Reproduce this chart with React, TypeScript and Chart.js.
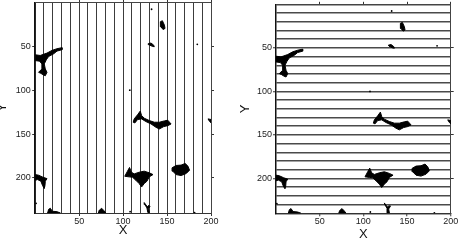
import React, { useEffect, useRef } from "react";
import { Chart, registerables } from "chart.js";

Chart.register(...registerables);

// ---- axis ranges & tick labels ----
const xRange = [0, 200];
const yRange = [0, 240];
const gridStep = 10;
const labelStep = 50;
const tickLabels = [50, 100, 150, 200];

// ---- black features (polygons in data coordinates [x, y]) ----
const blobTopLeft: [number, number][] = [
  [0, 59.6], [5.7, 60.4], [13.4, 57.7], [19.1, 54.6], [24.8, 52.7], [30.5, 51.5],
  [30.5, 53.8], [24.8, 55.4], [21, 58.5], [15.3, 61.5], [12.6, 65.4], [10.3, 70],
  [11.5, 75.8], [13.4, 79.6], [11.5, 83.5], [8.8, 82.3], [6.5, 80.8], [3.8, 79.6],
  [7.6, 75.8], [7.6, 70], [5, 66.9], [0, 66.2],
];
const blobTopRight: [number, number][] = [
  [142.4, 21.9], [144.7, 20.8], [147, 25.8], [147.7, 29.6], [145.4, 30.8], [143.1, 27.7],
];
const blobStreak: [number, number][] = [
  [128.6, 46.9], [131.7, 46.2], [134.7, 48.5], [135.5, 50.4], [133.2, 50], [129.4, 48.1],
];
const blobMiddle: [number, number][] = [
  [112.6, 132.7], [116.4, 128.1], [119.5, 123.8], [121, 128.8], [124, 131.9], [129.8, 134.6],
  [135.5, 136.5], [141.2, 136.5], [146.9, 135], [150.8, 134.2], [154.6, 138.5], [150.8, 140.4],
  [146.2, 141.5], [141.2, 144.2], [137.4, 142.3], [131.7, 138.4], [126, 135.8], [121, 132.7],
  [116.4, 133.5], [113.4, 137.3], [111.5, 136.5],
];
const blobLower: [number, number][] = [
  [101.9, 198.1], [105, 192.3], [107.3, 188.1], [109.5, 193.5], [112.6, 195.4], [118.3, 193.5],
  [124, 192.3], [129.8, 194.2], [134, 196.2], [129.8, 198.8], [127.1, 203.8], [124, 206.5],
  [121, 210.4], [118.3, 206.5], [114.5, 202.7], [110.7, 199.2], [106.9, 198.8],
];
const blobOval: [number, number][] = [
  [155.7, 188.5], [160.3, 185.8], [166, 185.4], [170.6, 183.5], [173.7, 186.5],
  [175.6, 191.2], [171.8, 195], [166, 197.3], [160.3, 196.2], [156.5, 192.3],
];
const blobLeftEdge: [number, number][] = [
  [0, 196.2], [3.8, 196.9], [8.8, 199.2], [13.4, 200.8], [11.5, 203.8], [11.1, 208.8],
  [10.3, 211.9], [8.4, 208.8], [6.5, 203.8], [2.7, 201.9], [0, 202.7],
];
const blobBottomA: [number, number][] = [
  [14.1, 240], [15.3, 235.8], [17.2, 234.6], [19.5, 238], [24.8, 238.5], [28.6, 240],
];
const blobBottomB: [number, number][] = [
  [71.8, 240], [72.9, 236.9], [75.6, 234.6], [78.2, 237.3], [80.2, 240],
];
const blobFork: [number, number][] = [
  [124, 228.1], [126.3, 231.2], [127.9, 232.7], [129.4, 231.2], [130.5, 232.7], [129, 235],
  [129.8, 239.6], [128.2, 239.6], [127.1, 234.2], [124.8, 230.4],
];
const blobRightEdge: [number, number][] = [
  [196.6, 132.7], [200.4, 133.5], [200.4, 137.3], [198.5, 135.8],
];
const specks: [number, number][] = [
  [132.4, 7.7], [184.4, 47.7], [107.6, 100], [108, 238.5], [181.3, 239.5], [1, 229],
];

const blobs = [
  blobTopLeft, blobTopRight, blobStreak, blobMiddle, blobLower, blobOval,
  blobLeftEdge, blobBottomA, blobBottomB, blobFork, blobRightEdge,
];

const FONT = "'Liberation Sans', Arial, sans-serif";

function makeDatasets() {
  const ds: any[] = blobs.map((poly) => ({
    data: [...poly, poly[0]].map(([x, y]) => ({ x, y })),
    showLine: true,
    fill: "shape",
    backgroundColor: "#000",
    borderColor: "#000",
    borderWidth: 1,
    pointRadius: 0,
    tension: 0,
  }));
  ds.push({
    data: specks.map(([x, y]) => ({ x, y })),
    showLine: false,
    pointRadius: 0.9,
    backgroundColor: "#000",
    borderWidth: 0,
  });
  return ds;
}

const isLabel = (v: any) => typeof v === "number" && tickLabels.includes(v);

interface PanelSpec {
  gridAxis: "x" | "y";
  yWidth: number;
  rightWidth: number;
  topHeight: number;
  bottomHeight: number;
  yTitlePad: number;
  xTitlePad: number;
  yTickPad: number;
  gridColor: string;
  gridWidth: number;
}

function fixSize(dim: "width" | "height", size: number) {
  return (s: any) => {
    s[dim] = size;
    s.paddingTop = 0;
    s.paddingBottom = 0;
    s.paddingLeft = 0;
    s.paddingRight = 0;
  };
}

function makeConfig(p: PanelSpec): any {
  const tickFont = { family: FONT, size: 9, lineHeight: 1.2 };
  const titleFont = { family: FONT, size: 13, lineHeight: 1.2 };
  const tickColor = (ctx: any) => (isLabel(ctx.tick && ctx.tick.value) ? "#333" : "rgba(0,0,0,0)");
  const labelCb = (v: any) => (isLabel(v) ? String(v) : "");
  return {
    type: "scatter",
    data: { datasets: makeDatasets() },
    options: {
      responsive: false,
      maintainAspectRatio: false,
      animation: false,
      layout: { padding: 0, autoPadding: false },
      plugins: { legend: { display: false }, tooltip: { enabled: false } },
      scales: {
        x: {
          type: "linear",
          position: "bottom",
          min: xRange[0],
          max: xRange[1],
          ticks: {
            stepSize: p.gridAxis === "x" ? gridStep : labelStep,
            autoSkip: false,
            maxRotation: 0,
            padding: 0,
            font: tickFont,
            color: "#222",
            callback: labelCb,
          },
          grid: {
            drawOnChartArea: p.gridAxis === "x",
            color: p.gridColor,
            lineWidth: p.gridWidth,
            drawTicks: true,
            tickLength: 3,
            tickColor,
            tickWidth: 1,
          },
          border: { display: true, color: "#333", width: 1 },
          title: {
            display: true,
            text: "X",
            font: titleFont,
            color: "#111",
            padding: { top: 0, bottom: p.xTitlePad },
          },
          afterFit: fixSize("height", p.bottomHeight),
        },
        y: {
          type: "linear",
          position: "left",
          min: yRange[0],
          max: yRange[1],
          reverse: true,
          ticks: {
            stepSize: p.gridAxis === "y" ? gridStep : labelStep,
            autoSkip: false,
            padding: p.yTickPad,
            font: tickFont,
            color: "#222",
            callback: labelCb,
          },
          grid: {
            drawOnChartArea: p.gridAxis === "y",
            color: p.gridColor,
            lineWidth: p.gridWidth,
            drawTicks: true,
            tickLength: 3,
            tickColor,
            tickWidth: 1,
          },
          border: { display: true, color: "#111", width: 1.5 },
          title: {
            display: true,
            text: "Y",
            font: titleFont,
            color: "#111",
            padding: { top: p.yTitlePad, bottom: 0 },
          },
          afterFit: fixSize("width", p.yWidth),
        },
        xTop: {
          type: "linear",
          position: "top",
          min: xRange[0],
          max: xRange[1],
          ticks: { display: false, stepSize: labelStep, autoSkip: false },
          grid: {
            drawOnChartArea: false,
            drawTicks: true,
            tickLength: 2.5,
            tickColor,
            tickWidth: 1,
          },
          border: { display: true, color: "#444", width: 1 },
          afterFit: fixSize("height", p.topHeight),
        },
        yRight: {
          type: "linear",
          position: "right",
          min: yRange[0],
          max: yRange[1],
          reverse: true,
          ticks: { display: false, stepSize: labelStep, autoSkip: false },
          grid: {
            drawOnChartArea: false,
            drawTicks: true,
            tickLength: 3,
            tickColor,
            tickWidth: 1,
          },
          border: { display: true, color: "#444", width: 1 },
          afterFit: fixSize("width", p.rightWidth),
        },
      },
    },
  };
}

const leftSpec: PanelSpec = {
  gridAxis: "x",
  yWidth: 35.2,
  rightWidth: 18,
  topHeight: 2.5,
  bottomHeight: 27,
  yTitlePad: -5.3,
  xTitlePad: 2.2,
  yTickPad: 1.4,
  gridColor: "#3c3c3c",
  gridWidth: 1,
};

const rightSpec: PanelSpec = {
  gridAxis: "y",
  yWidth: 47,
  rightWidth: 8.3,
  topHeight: 4.3,
  bottomHeight: 26.7,
  yTitlePad: 8.7,
  xTitlePad: -2.3,
  yTickPad: 1,
  gridColor: "#4a4a4a",
  gridWidth: 1.5,
};

export default function App() {
  const leftRef = useRef<HTMLCanvasElement | null>(null);
  const rightRef = useRef<HTMLCanvasElement | null>(null);

  useEffect(() => {
    const charts: Chart[] = [];
    if (leftRef.current) charts.push(new Chart(leftRef.current, makeConfig(leftSpec)));
    if (rightRef.current) charts.push(new Chart(rightRef.current, makeConfig(rightSpec)));
    return () => charts.forEach((c) => c.destroy());
  }, []);

  return (
    <div style={{ position: "absolute", left: 0, top: 0, width: 459, height: 240, background: "#fff" }}>
      <canvas
        ref={leftRef}
        width={229}
        height={240}
        style={{ position: "absolute", left: 0, top: 0, width: 229, height: 240 }}
      />
      <canvas
        ref={rightRef}
        width={230}
        height={240}
        style={{ position: "absolute", left: 229, top: 0, width: 230, height: 240 }}
      />
    </div>
  );
}
